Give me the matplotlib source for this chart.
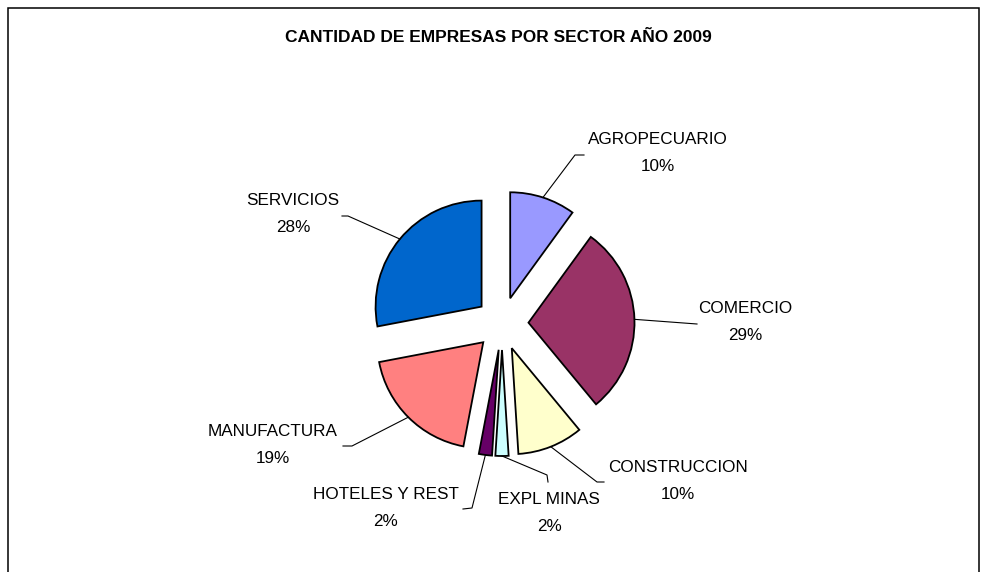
import matplotlib
matplotlib.use('Agg')
import matplotlib.pyplot as plt
from matplotlib.patches import Rectangle
import numpy as np

plt.rcParams['font.family'] = ['Liberation Sans', 'DejaVu Sans']

sectores = ['AGROPECUARIO', 'COMERCIO', 'CONSTRUCCION', 'EXPL MINAS',
            'HOTELES Y REST', 'MANUFACTURA', 'SERVICIOS']
porcentajes = [10, 29, 10, 2, 2, 19, 28]
colores = ['#9999FF', '#993366', '#FFFFCC', '#CCFFFF', '#660066', '#FF8080', '#0066CC']

# layout (pixel positions of the labels and leader elbows)
cx, cy, rad = 502, 323.5, 106
label_pos = [(658, 153), (745, 322), (678, 481), (549, 513),
             (386, 508), (273, 445), (293, 214)]
elbows = [[(575, 155), (584, 155)],
          [(697, 324)],
          [(597, 482), (604, 482)],
          [(547, 475), (548, 482)],
          [(472, 508), (463, 509)],
          [(352, 446), (343, 446)],
          [(348, 216), (342, 216)]]


def px(x, y):
    return (x - cx) / rad, (cy - y) / rad


fig = plt.figure(figsize=(9.86, 5.72), dpi=100)
ax = fig.add_axes([0, 0, 1, 1])

explode = [0.25] * len(porcentajes)
wedges, _ = ax.pie(porcentajes, explode=explode, colors=colores, startangle=90,
                   counterclock=False,
                   wedgeprops=dict(edgecolor='black', linewidth=1.3))

ax.set_xlim(-cx / rad, (986 - cx) / rad)
ax.set_ylim(-(572 - cy) / rad, cy / rad)
ax.axis('off')

for w, name, val, pos, elb in zip(wedges, sectores, porcentajes, label_pos, elbows):
    ang = np.deg2rad((w.theta1 + w.theta2) / 2)
    x0 = w.center[0] + w.r * np.cos(ang)
    y0 = w.center[1] + w.r * np.sin(ang)
    pts = [(x0, y0)] + [px(*p) for p in elb]
    xs, ys = zip(*pts)
    ax.plot(xs, ys, color='black', lw=0.8)
    ax.text(*px(pos[0], pos[1] - 13.5), name, ha='center', va='center', fontsize=12.3)
    ax.text(*px(pos[0], pos[1] + 13.5), str(val) + '%', ha='center', va='center',
            fontsize=12.3)

fig.text(498 / 986, 1 - 37 / 572, 'CANTIDAD DE EMPRESAS POR SECTOR AÑO 2009',
         ha='center', va='center', fontsize=12.5, fontweight='bold')

fig.patches.append(Rectangle((8 / 986, -0.05), 971 / 986, 1.05 - 8 / 572,
                             transform=fig.transFigure, fill=False,
                             edgecolor='black', lw=1.1))

fig.savefig('out.png', dpi=100)
